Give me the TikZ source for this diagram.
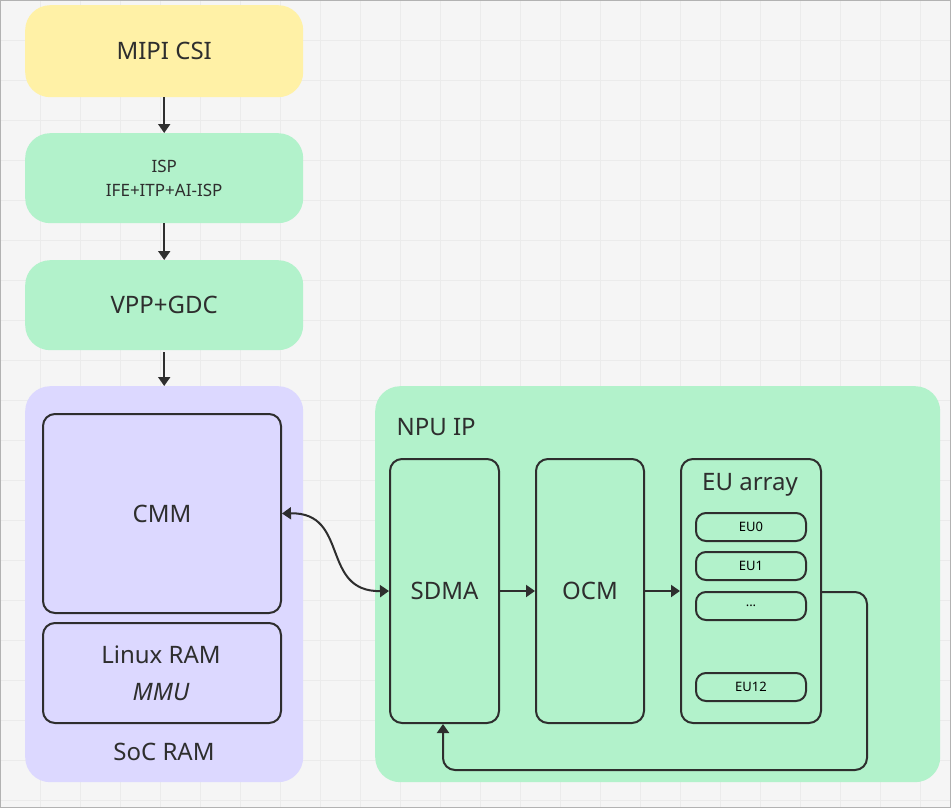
\documentclass[tikz,border=0pt]{standalone}
\usepackage{fontspec}
\setmainfont{Noto Sans}
\usetikzlibrary{arrows.meta}
\definecolor{ylw}{HTML}{FFF1A6}
\definecolor{grn}{HTML}{B2F2CB}
\definecolor{lav}{HTML}{DCD8FF}
\definecolor{ink}{HTML}{2E2E2E}
\begin{document}
\begin{tikzpicture}[x=1pt,y=-1pt,
  blk/.style={draw=none,rounded corners=25pt,inner sep=0pt,anchor=north west},
  box/.style={draw=ink,line width=2pt,rounded corners=12pt,fill=none,anchor=north west,inner sep=0pt},
  eu/.style={draw=ink,line width=2pt,rounded corners=10pt,anchor=north west,inner sep=0pt,minimum width=110pt,minimum height=28pt,font=\fontsize{13}{15}\selectfont\bfseries},
  arr/.style={draw=ink,line width=2pt,-{Triangle[length=9pt,width=12pt]}},
  lbl/.style={font=\fontsize{24}{28}\selectfont\bfseries,text=ink}]
\useasboundingbox (0,0) rectangle (951,808);
\fill[white!96!black] (0,0) rectangle (951,808);
\foreach \i in {0,40,...,951} \draw[black!8,line width=0.6pt] (\i,0) -- (\i,808);
\foreach \i in {0,40,...,808} \draw[black!8,line width=0.6pt] (0,\i) -- (951,\i);
\draw[black!30,line width=1pt] (0.5,0.5) rectangle (950.5,807.5);
\node[blk,fill=ylw,minimum width=278pt,minimum height=92pt,font=\fontsize{24}{28}\selectfont,text=ink] (mipi) at (25,5) {MIPI CSI};
\node[blk,fill=grn,minimum width=278pt,minimum height=90pt,font=\fontsize{17}{24}\selectfont,text=ink,align=center] (isp) at (25,133) {ISP\\IFE+ITP+AI-ISP};
\node[blk,fill=grn,minimum width=278pt,minimum height=90pt,font=\fontsize{24}{28}\selectfont,text=ink] (vpp) at (25,260) {VPP+GDC};
\node[blk,fill=lav,minimum width=278pt,minimum height=396pt] (soc) at (25,386) {};
\node[lbl,anchor=center] (socl) at (164,752) {SoC RAM};
\node[blk,fill=grn,minimum width=565pt,minimum height=396pt] (npu) at (375,386) {};
\node[lbl,anchor=west] (npul) at (393,427) {NPU IP};
\node[box,minimum width=238pt,minimum height=199pt,lbl] (cmm) at (42,413) {CMM};
\node[box,minimum width=238pt,minimum height=100pt] (lin) at (42,622) {};
\node[lbl,anchor=center] (linl) at (161,655) {Linux RAM};
\node[font=\fontsize{24}{28}\selectfont\itshape,text=ink] (mmu) at (161,692) {MMU};
\node[box,minimum width=109pt,minimum height=264pt,lbl] (sdma) at (389,458) {SDMA};
\node[box,minimum width=108pt,minimum height=264pt,lbl] (ocm) at (535,458) {OCM};
\node[box,minimum width=140pt,minimum height=264pt] (eua) at (680,458) {};
\node[lbl] (eual) at (750,485) {EU array};
\node[eu] (eu0) at (695,512) {EU0};
\node[eu] (eu1) at (695,551) {EU1};
\node[eu] (eud) at (695,591) {...};
\node[eu] (eu12) at (695,672) {EU12};
\draw[arr] (mipi.south) -- (isp.north);
\draw[arr] (isp.south) -- (vpp.north);
\draw[arr] (vpp.south) ++(0,2) -- (soc.north);
\draw[arr] (sdma.east) -- (ocm.west);
\draw[arr] (ocm.east) -- (eua.west);
\draw[draw=ink,line width=2pt,{Triangle[length=9pt,width=12pt]}-{Triangle[length=9pt,width=12pt]}] (cmm.east) .. controls (350,512) and (320,592) .. (sdma.west);
\coordinate (c1) at (867,592);
\coordinate (c2) at (867,770);
\coordinate (c3) at (443,770);
\draw[arr,rounded corners=12pt] (eua.east |- c1) -- (c1) -- (c2) -- (c3) -- (sdma.south -| c3);
\end{tikzpicture}
\end{document}
